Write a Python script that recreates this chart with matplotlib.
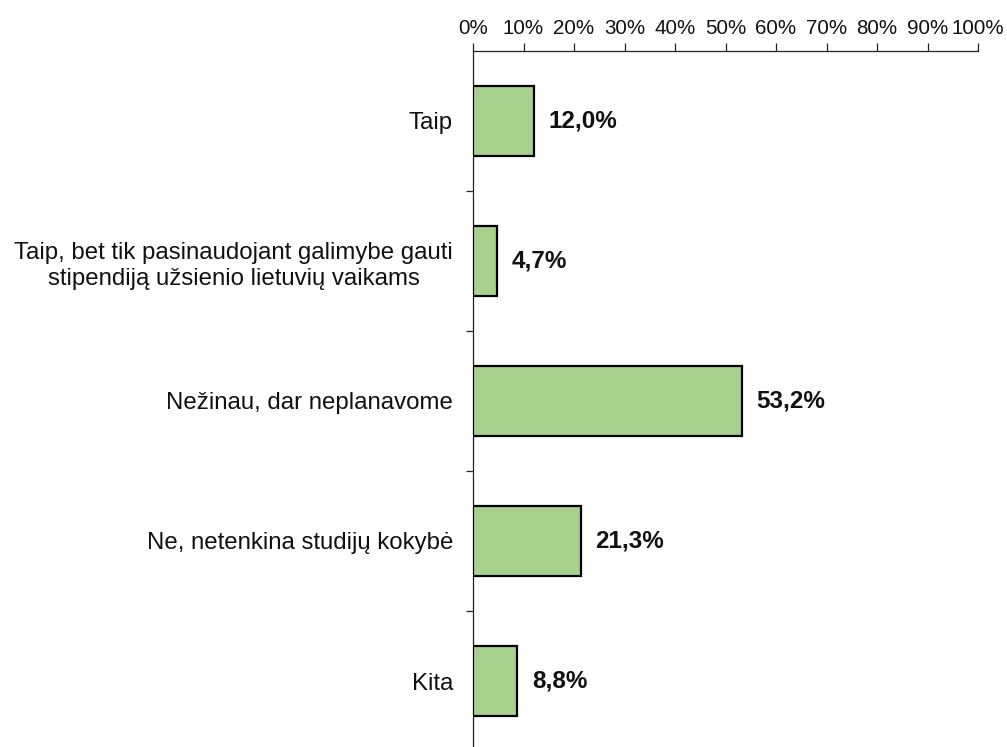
import matplotlib
matplotlib.use("Agg")
import matplotlib.pyplot as plt
from matplotlib.ticker import FixedLocator

plt.rcParams['font.family'] = ['Liberation Sans', 'DejaVu Sans']

categories = [
    "Taip",
    "Taip, bet tik pasinaudojant galimybe gauti\nstipendiją užsienio lietuvių vaikams",
    "Nežinau, dar neplanavome",
    "Ne, netenkina studijų kokybė",
    "Kita",
]
values = [12.0, 4.7, 53.2, 21.3, 8.8]
axis_ticks = [0, 10, 20, 30, 40, 50, 60, 70, 80, 90, 100]
tick_labels = [f"{t}%" for t in axis_ticks]

W, H = 1007, 747
fig = plt.figure(figsize=(W / 100, H / 100), dpi=100)
left_px, right_px, top_px = 473, 978, 51
n = len(categories)
bottom_px = top_px + 140 * n
ax = fig.add_axes([left_px / W, 1 - bottom_px / H, (right_px - left_px) / W, (bottom_px - top_px) / H])

y = list(range(n))
ax.barh(y, values, height=0.5, color="#A9D18E", edgecolor="black", linewidth=1.6, zorder=3)
ax.set_ylim(n - 0.5, -0.5)
ax.set_xlim(0, 100)

for spine in ["right", "bottom"]:
    ax.spines[spine].set_visible(False)
for spine in ["left", "top"]:
    ax.spines[spine].set_linewidth(0.9)
    ax.spines[spine].set_color("#222222")

ax.xaxis.set_ticks_position("top")
ax.set_xticks(axis_ticks)
ax.set_xticklabels(tick_labels, fontsize=14.8, color="#111111")
ax.tick_params(axis="x", length=5.5, width=0.9, color="#222222", pad=4)

ax.set_yticks(y)
ax.set_yticklabels(categories, fontsize=17.3, color="#111111", multialignment="center",
                   linespacing=1.25)
ax.tick_params(axis="y", which="major", length=0, pad=14.4)
ax.yaxis.set_minor_locator(FixedLocator([i + 0.5 for i in range(n - 1)]))
ax.tick_params(axis="y", which="minor", length=5, width=0.9, color="#222222")

for yi, v in zip(y, values):
    ax.annotate(f"{v:.1f}%".replace(".", ","), xy=(v, yi), xytext=(10.8, 0),
                textcoords="offset points", va="center", ha="left",
                fontsize=17.5, fontweight="bold", color="#111111")

fig.savefig("out.png", dpi=100)
